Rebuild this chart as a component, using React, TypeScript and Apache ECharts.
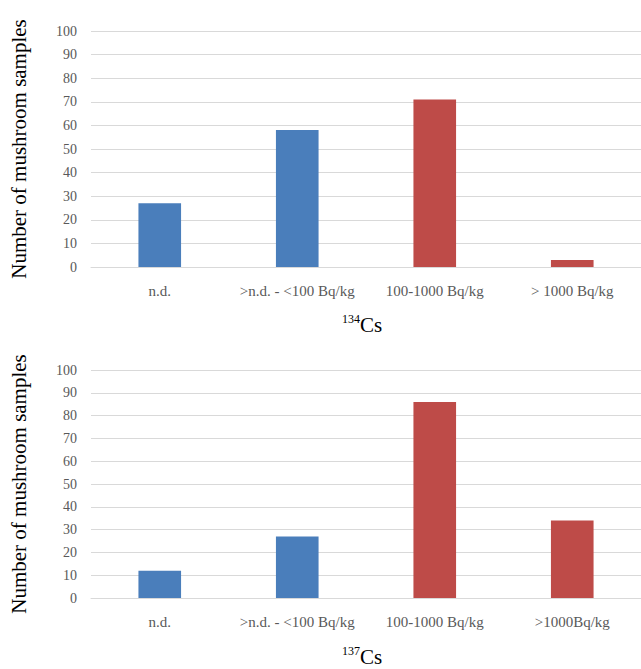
import React, { useEffect, useRef } from "react";
import * as echarts from "echarts";

const categoriesTop = ["n.d.", ">n.d. - <100 Bq/kg", "100-1000 Bq/kg", "> 1000 Bq/kg"];
const categoriesBottom = ["n.d.", ">n.d. - <100 Bq/kg", "100-1000 Bq/kg", ">1000Bq/kg"];
const cs134Values = [27, 58, 71, 3];
const cs137Values = [12, 27, 86, 34];
const barColors = ["#4A7EBB", "#4A7EBB", "#BE4B48", "#BE4B48"];
const yTicks = { min: 0, max: 100, interval: 10 };
const yName = "Number of mushroom samples";

const FONT = "Liberation Serif";

export default function App() {
  const ref = useRef<HTMLDivElement>(null);
  useEffect(() => {
    if (!ref.current) return;
    const chart = echarts.init(ref.current, undefined, { renderer: "svg" });
    const grids = [
      { left: 84, width: 564, top: 31, height: 236 },
      { left: 84, width: 564, top: 370, height: 228 },
    ];
    const cats = [categoriesTop, categoriesBottom];
    const vals = [cs134Values, cs137Values];
    const rich = {
      sup: { fontSize: 12, fontFamily: FONT, fontWeight: "normal", color: "#000", verticalAlign: "top", lineHeight: 24, padding: [0, 0, 10, 0] },
      main: { fontSize: 21, fontFamily: FONT, fontWeight: "normal", color: "#000", lineHeight: 24 },
    };
    chart.setOption({
      animation: false,
      textStyle: { fontFamily: FONT },
      grid: grids,
      title: [
        { text: "{sup|134}{main|Cs}", left: 337, top: 308, textStyle: { fontWeight: "normal", fontFamily: FONT, rich } },
        { text: "{sup|137}{main|Cs}", left: 337, top: 640, textStyle: { fontWeight: "normal", fontFamily: FONT, rich } },
      ],
      xAxis: [0, 1].map((i) => ({
        type: "category",
        gridIndex: i,
        data: cats[i],
        axisLine: { show: true, lineStyle: { color: "#D9D9D9", width: 1 } },
        axisTick: { show: false },
        axisLabel: { color: "#595959", fontSize: 15, fontFamily: FONT, margin: 16, interval: 0 },
      })),
      yAxis: [0, 1].map((i) => ({
        type: "value",
        gridIndex: i,
        min: yTicks.min,
        max: yTicks.max,
        interval: yTicks.interval,
        name: yName,
        nameLocation: "middle",
        nameRotate: 90,
        nameGap: 62,
        nameTextStyle: { color: "#000", fontSize: 21, fontFamily: FONT },
        axisLine: { show: false },
        axisTick: { show: false },
        splitLine: { lineStyle: { color: "#D9D9D9", width: 1 } },
        axisLabel: { color: "#595959", fontSize: 14, fontFamily: FONT, margin: 14 },
      })),
      series: [0, 1].map((i) => ({
        type: "bar",
        xAxisIndex: i,
        yAxisIndex: i,
        barWidth: "31%",
        data: vals[i].map((v, j) => ({ value: v, itemStyle: { color: barColors[j] } })),
      })),
    });
    return () => chart.dispose();
  }, []);
  return (
    <div
      ref={ref}
      style={{ position: "absolute", left: 0, top: 0, width: 641, height: 669, background: "#fff" }}
    />
  );
}
